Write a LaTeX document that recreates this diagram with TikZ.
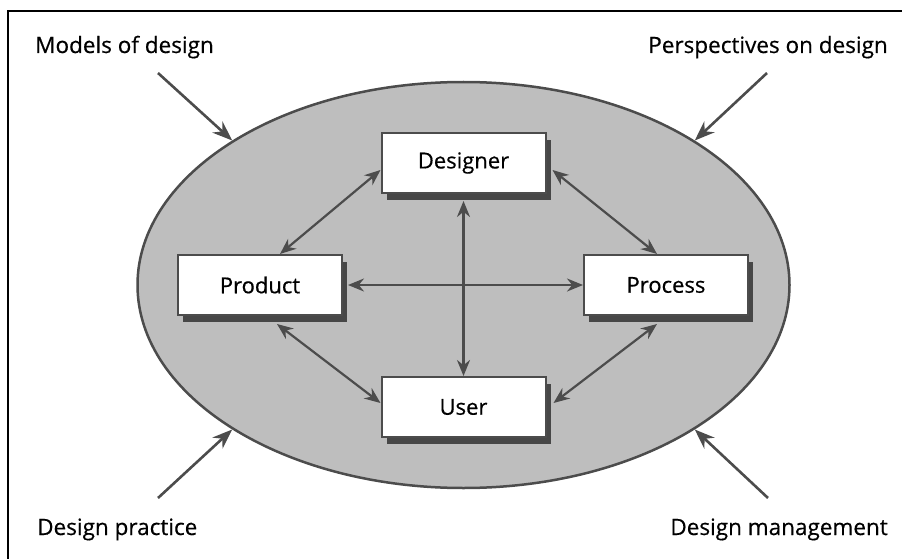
\documentclass[tikz,border=0pt]{standalone}
\usepackage{fontspec}
\setmainfont{Open Sans}
\newfontfamily\diagramfont{Open Sans}[FakeBold=0.5]
\usetikzlibrary{arrows.meta, shapes.geometric, shadows}

\definecolor{ovalgray}{HTML}{BEBEBE}
\definecolor{linegray}{HTML}{4C4C4C}
\definecolor{shadegray}{HTML}{474747}

\tikzset{
    entity/.style={draw=linegray, line width=2pt, fill=white,
        minimum width=164pt, minimum height=60pt, inner sep=0pt,
        font=\diagramfont\fontsize{22}{26}\selectfont,
        drop shadow={shadow xshift=5pt, shadow yshift=-7pt, fill=shadegray, opacity=1}},
    link/.style={linegray, line width=2.2pt,
        {Stealth[length=16pt, width=13pt]}-{Stealth[length=16pt, width=13pt]}},
    influence/.style={linegray, line width=2.6pt, -{Stealth[length=20pt, width=15pt]}},
    caption/.style={font=\diagramfont\fontsize{22.5}{27}\selectfont, inner sep=0pt}
}

\begin{document}
\begin{tikzpicture}[x=1pt, y=-1pt]
    \useasboundingbox (0,0) rectangle (902,559);
    \draw[line width=2.5pt] (8,11) rectangle (906,563);

    % the field of design
    \node[ellipse, draw=linegray, fill=ovalgray, line width=2.5pt, inner sep=0pt,
        minimum width=652pt, minimum height=406pt] (oval) at (463.5,285) {};

    \node[entity] (designer) at (463.5,163) {Designer};
    \node[entity] (product) at (260,285) {Product};
    \node[entity] (process) at (666,285) {Process};
    \node[entity] (user) at (463.5,407) {User};

    \draw[link] ([yshift=-7pt]designer.south) -- (user.north);
    \draw[link] ([xshift=5pt]product.east) -- (process.west);
    \draw[link] ([yshift=-7pt]designer.west) -- ([xshift=20pt]product.north);
    \draw[link] ([xshift=6pt, yshift=-7pt]designer.east) -- ([xshift=-9pt]process.north);
    \draw[link] ([xshift=17pt, yshift=-8pt]product.south) -- ([yshift=4pt]user.west);
    \draw[link] ([xshift=-9pt, yshift=-8pt]process.south) -- ([xshift=7pt, yshift=4pt]user.east);

    % outside views
    \node[caption, anchor=base west] (models) at (35,53) {Models of design};
    \node[caption, anchor=base east] (perspectives) at (888,53) {Perspectives on design};
    \node[caption, anchor=base west] (practice) at (37,535) {Design practice};
    \node[caption, anchor=base east] (management) at (888,535) {Design management};

    \coordinate (modelsfrom) at (158,73);
    \coordinate (perspectivesfrom) at (767,73);
    \coordinate (practicefrom) at (158,498);
    \coordinate (managementfrom) at (768,498);

    \draw[influence] (modelsfrom) -- (oval.148);
    \draw[influence] (perspectivesfrom) -- (oval.32);
    \draw[influence] (practicefrom) -- (oval.212);
    \draw[influence] (managementfrom) -- (oval.328);
\end{tikzpicture}
\end{document}
